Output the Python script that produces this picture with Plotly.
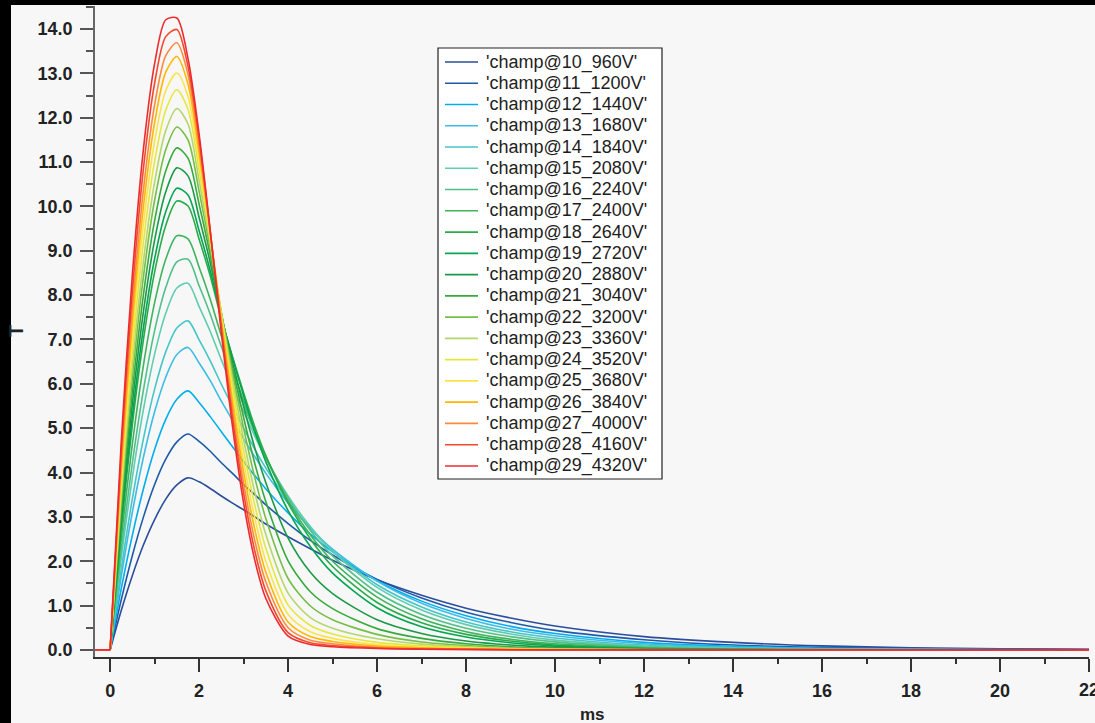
import plotly.graph_objects as go

# ---------------- data ----------------
t_ms = [-0.34, 0, 0.25, 0.5, 0.75, 1.0, 1.25, 1.5, 1.75, 2.0, 2.25, 2.5, 2.75, 3.0, 3.25, 3.5,
        4.0, 4.5, 5, 6, 7, 8, 9, 10, 12, 14, 16, 18, 20, 22]

series_names = ["'champ@10_960V'", "'champ@11_1200V'", "'champ@12_1440V'", "'champ@13_1680V'",
                "'champ@14_1840V'", "'champ@15_2080V'", "'champ@16_2240V'", "'champ@17_2400V'",
                "'champ@18_2640V'", "'champ@19_2720V'", "'champ@20_2880V'", "'champ@21_3040V'",
                "'champ@22_3200V'", "'champ@23_3360V'", "'champ@24_3520V'", "'champ@25_3680V'",
                "'champ@26_3840V'", "'champ@27_4000V'", "'champ@28_4160V'", "'champ@29_4320V'"]

series_colors = ["#2b4e9c", "#1f5aa8", "#00aeef", "#3dbde6", "#45c6c8", "#5ecdb0", "#50c08a",
                 "#3cb55c", "#2aab4a", "#00a651", "#1a9a46", "#36ab3c", "#74bf45", "#b4d76a",
                 "#e4e83c", "#fbe44a", "#ffb700", "#ff8a3d", "#f4472b", "#ec2b2f"]

# tick value whose label sits on the right edge of the picture (drawn cut off, as in the original)
x_edge_tick = 22

champ_10 = [0, 0, .89, 1.68, 2.37, 2.94, 3.40, 3.72, 3.88, 3.79, 3.64, 3.47, 3.31, 3.16, 3.00, 2.84,
            2.55, 2.28, 2.02, 1.58, 1.23, .94, .72, .54, .30, .17, .09, .05, .025, .013]
champ_11 = [0, 0, 1.13, 2.13, 3.00, 3.73, 4.30, 4.69, 4.87, 4.70, 4.48, 4.22, 3.98, 3.73, 3.50, 3.27,
            2.85, 2.47, 2.14, 1.59, 1.17, .85, .62, .44, .23, .11, .057, .028, .013, .006]
champ_12 = [0, 0, 1.38, 2.59, 3.64, 4.52, 5.20, 5.65, 5.84, 5.58, 5.26, 4.92, 4.58, 4.25, 3.93, 3.63,
            3.09, 2.61, 2.21, 1.56, 1.10, .77, .53, .37, .17, .081, .037, .017, .008, .004]
champ_13 = [0, 0, 1.65, 3.11, 4.35, 5.37, 6.15, 6.66, 6.82, 6.47, 6.07, 5.61, 5.18, 4.76, 4.36, 3.98,
            3.31, 2.75, 2.27, 1.55, 1.05, .71, .47, .32, .14, .061, .026, .011, .005, .002]
champ_14 = [0, 0, 1.82, 3.41, 4.77, 5.88, 6.72, 7.26, 7.42, 6.99, 6.52, 5.99, 5.49, 5.00, 4.53, 4.10,
            3.36, 2.74, 2.23, 1.47, .97, .63, .41, .27, .11, .046, .019, .008, .003, .001]
champ_15 = [0, 0, 2.08, 3.89, 5.43, 6.67, 7.59, 8.16, 8.27, 7.74, 7.18, 6.54, 5.94, 5.37, 4.82, 4.32,
            3.47, 2.78, 2.22, 1.41, .90, .57, .36, .22, .088, .034, .013, .005, .002, .001]
champ_16 = [0, 0, 2.26, 4.22, 5.87, 7.20, 8.17, 8.75, 8.81, 8.21, 7.57, 6.84, 6.16, 5.52, 4.90, 4.35,
            3.43, 2.69, 2.12, 1.30, .80, .49, .30, .18, .066, .024, .009, .003, .001, 0]
champ_17 = [0, 0, 2.50, 4.65, 6.43, 7.83, 8.81, 9.34, 9.27, 8.63, 7.91, 7.08, 6.33, 5.62, 4.94, 4.34,
            3.36, 2.59, 2.00, 1.19, .70, .41, .24, .14, .05, .017, .006, .002, .001, 0]
champ_18 = [0, 0, 2.73, 5.08, 7.01, 8.52, 9.57, 10.12, 10.01, 9.26, 8.43, 7.46, 6.61, 5.80, 5.04, 4.38,
            3.31, 2.50, 1.88, 1.07, .61, .35, .20, .11, .036, .011, .004, .001, 0, 0]
champ_19 = [0, 0, 2.85, 5.28, 7.28, 8.82, 9.88, 10.41, 10.26, 9.45, 8.55, 7.51, 6.59, 5.73, 4.93, 4.24,
            3.14, 2.33, 1.73, .95, .52, .29, .16, .086, .026, .008, .002, .001, 0, 0]
champ_20 = [0, 0, 3.01, 5.56, 7.64, 9.24, 10.33, 10.87, 10.69, 9.75, 8.73, 7.55, 6.49, 5.49, 4.56, 3.77,
            2.52, 1.75, 1.27, .68, .37, .20, .11, .056, .016, .005, .001, 0, 0, 0]
champ_21 = [0, 0, 3.16, 5.84, 8.02, 9.68, 10.80, 11.32, 11.09, 10.05, 8.90, 7.58, 6.37, 5.24, 4.21, 3.34,
            2.01, 1.31, .93, .48, .26, .14, .072, .036, .010, .003, 0, 0, 0, 0]
champ_22 = [0, 0, 3.34, 6.15, 8.43, 10.14, 11.28, 11.79, 11.50, 10.34, 9.06, 7.61, 6.25, 5.00, 3.89, 2.96,
            1.61, .99, .68, .35, .18, .10, .049, .024, .006, .002, 0, 0, 0, 0]
champ_23 = [0, 0, 3.49, 6.42, 8.78, 10.55, 11.71, 12.21, 11.86, 10.58, 9.17, 7.59, 6.10, 4.75, 3.56, 2.60,
            1.28, .73, .49, .25, .13, .070, .033, .015, .004, 0, 0, 0, 0, 0]
champ_24 = [0, 0, 3.69, 6.76, 9.21, 11.02, 12.17, 12.63, 12.19, 10.82, 9.27, 7.56, 5.95, 4.50, 3.27, 2.29,
            1.01, .55, .36, .17, .091, .049, .022, .010, .003, 0, 0, 0, 0, 0]
champ_25 = [0, 0, 3.88, 7.09, 9.62, 11.47, 12.61, 13.01, 12.48, 11.02, 9.35, 7.50, 5.78, 4.25, 2.98, 2.00,
            .80, .41, .26, .12, .064, .034, .015, .006, .001, 0, 0, 0, 0, 0]
champ_26 = [0, 0, 4.05, 7.39, 10.01, 11.89, 13.03, 13.38, 12.76, 11.21, 9.40, 7.44, 5.60, 4.01, 2.72, 1.75,
            .63, .30, .19, .087, .045, .024, .010, .004, 0, 0, 0, 0, 0, 0]
champ_27 = [0, 0, 4.24, 7.70, 10.39, 12.29, 13.40, 13.69, 12.98, 11.35, 9.42, 7.34, 5.41, 3.76, 2.47, 1.53,
            .50, .22, .14, .061, .031, .016, .007, .003, 0, 0, 0, 0, 0, 0]
champ_28 = [0, 0, 4.47, 8.09, 10.87, 12.78, 13.83, 13.99, 13.16, 11.51, 9.45, 7.25, 5.23, 3.54, 2.24, 1.33,
            .39, .16, .098, .043, .022, .011, .005, .002, 0, 0, 0, 0, 0, 0]
champ_29 = [0, 0, 4.70, 8.47, 11.31, 13.22, 14.21, 14.25, 13.34, 11.63, 9.45, 7.15, 5.04, 3.31, 2.03, 1.16,
            .31, .12, .07, .03, .015, .008, .003, .001, 0, 0, 0, 0, 0, 0]

series_values = [champ_10, champ_11, champ_12, champ_13, champ_14, champ_15, champ_16, champ_17,
                 champ_18, champ_19, champ_20, champ_21, champ_22, champ_23, champ_24, champ_25,
                 champ_26, champ_27, champ_28, champ_29]

# ---------------- layout geometry (pixels) ----------------
W, H = 1095, 723
ML, MR, MT, MB = 95, 6, 6, 66
PW, PH = W - ML - MR, H - MT - MB


def px_x(px):
    return (px - ML) / PW


def px_y(py):
    return (H - MB - py) / PH


FONT = "Liberation Sans, Arial, sans-serif"
TICK_FONT = dict(family=FONT, size=18, color="#222222", weight="bold")
LINE_W = 1.6

fig = go.Figure()
for name, color, ys in zip(series_names, series_colors, series_values):
    pre_x = [x for x in t_ms if x <= 0]
    pre_y = [y for x, y in zip(t_ms, ys) if x <= 0]
    post_x = [x for x in t_ms if x >= 0]
    post_y = [y for x, y in zip(t_ms, ys) if x >= 0]
    fig.add_trace(go.Scatter(x=pre_x, y=pre_y, mode="lines", showlegend=False, hoverinfo="skip",
                             line=dict(color=color, width=LINE_W)))
    fig.add_trace(go.Scatter(x=post_x, y=post_y, mode="lines", name=name, showlegend=False,
                             line=dict(color=color, width=LINE_W, shape="spline", smoothing=0.8)))

# ---------------- custom legend (compact line spacing like the original) ----------------
shapes = []
annotations = []
leg_left, leg_right, leg_top, leg_bottom = 438, 662, 48, 479
shapes.append(dict(type="rect", xref="paper", yref="paper",
                   x0=px_x(leg_left), x1=px_x(leg_right), y0=px_y(leg_bottom), y1=px_y(leg_top),
                   line=dict(color="#222222", width=1.2), fillcolor="#ffffff", layer="above"))
first_row, row_step = 62, 21.26
for i, (name, color) in enumerate(zip(series_names, series_colors)):
    py = first_row + i * row_step
    shapes.append(dict(type="line", xref="paper", yref="paper",
                       x0=px_x(445), x1=px_x(478), y0=px_y(py), y1=px_y(py),
                       line=dict(color=color, width=LINE_W), layer="above"))
    annotations.append(dict(text=name, xref="paper", yref="paper", x=px_x(484), y=px_y(py),
                            xanchor="left", yanchor="middle", showarrow=False,
                            font=dict(family=FONT, size=18, color="#1e1e1e")))

# edge tick label (plotly hides labels that pass the page edge; the original shows it cut off)
annotations.append(dict(text=str(x_edge_tick), xref="x", yref="paper", x=x_edge_tick, y=px_y(690),
                        xanchor="center", yanchor="middle", showarrow=False, font=TICK_FONT))

# axis titles
annotations.append(dict(text="ms", xref="paper", yref="paper", x=px_x(592), y=px_y(714),
                        xanchor="center", yanchor="middle", showarrow=False,
                        font=dict(family=FONT, size=17, color="#222222", weight="bold")))
annotations.append(dict(text="T", xref="paper", yref="paper", x=px_x(16), y=px_y(331),
                        xanchor="center", yanchor="middle", showarrow=False, textangle=-90,
                        font=dict(family=FONT, size=20, color="#222222", weight="bold")))

# black frame strips at the top and left edge of the original screenshot
shapes.append(dict(type="rect", xref="paper", yref="paper", x0=px_x(0), x1=px_x(W), y0=px_y(5), y1=px_y(0),
                   fillcolor="#000000", line=dict(width=0), layer="above"))
shapes.append(dict(type="rect", xref="paper", yref="paper", x0=px_x(0), x1=px_x(11), y0=px_y(H), y1=px_y(0),
                   fillcolor="#000000", line=dict(width=0), layer="above"))

fig.update_layout(
    width=W, height=H,
    margin=dict(l=ML, r=MR, t=MT, b=MB, autoexpand=False),
    paper_bgcolor="#f7f7f7", plot_bgcolor="#f7f7f7",
    showlegend=False,
    shapes=shapes, annotations=annotations,
    xaxis=dict(range=[-0.34, 22], tickmode="linear", tick0=0, dtick=2, ticks="outside", ticklen=13,
               tickwidth=1.5, tickcolor="#333333", showline=True, linecolor="#333333", linewidth=1.5,
               showgrid=False, zeroline=False, tickfont=TICK_FONT, ticklabelstandoff=4,
               minor=dict(dtick=1, tick0=0, ticks="outside", ticklen=5, tickwidth=1.5, tickcolor="#333333",
                          showgrid=False)),
    yaxis=dict(range=[-0.16, 14.52], tickmode="linear", tick0=0, dtick=1, tickformat=".1f", ticks="outside",
               ticklen=13, tickwidth=1.5, tickcolor="#555555", showline=True, linecolor="#666666",
               linewidth=1.5, showgrid=False, zeroline=False, tickfont=TICK_FONT, ticklabelstandoff=4,
               minor=dict(dtick=0.5, tick0=0, ticks="outside", ticklen=7, tickwidth=1.5, tickcolor="#555555",
                          showgrid=False)),
)

fig.write_html("out.html", config={"displayModeBar": False},
               post_script="document.body.style.margin='0';document.body.style.overflow='hidden';")
